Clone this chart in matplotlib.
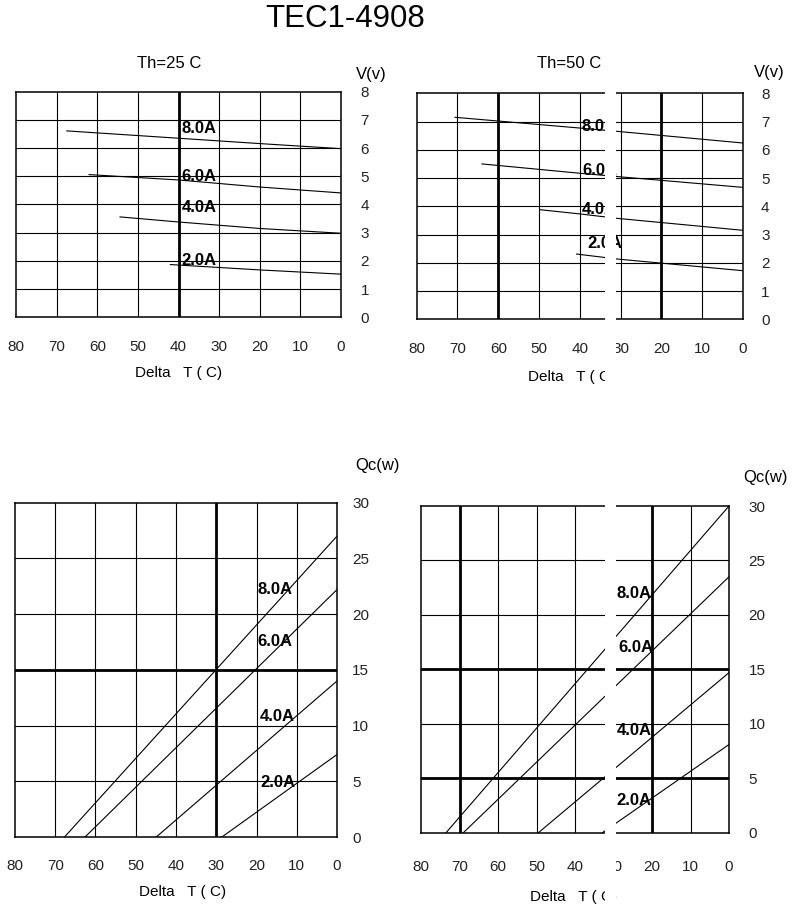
import matplotlib
matplotlib.use('Agg')
import matplotlib.pyplot as plt
from matplotlib.patches import Rectangle

plt.rcParams['font.family'] = ['Liberation Sans', 'DejaVu Sans']

# Delta T axis (reversed: 80 on the left, 0 on the right)
dt_ticks = [80, 70, 60, 50, 40, 30, 20, 10, 0]
v_ticks = [0, 1, 2, 3, 4, 5, 6, 7, 8]
qc_ticks = [0, 5, 10, 15, 20, 25, 30]
current_labels = ['8.0A', '6.0A', '4.0A', '2.0A']

# Voltage vs Delta T, Th = 25 C
v25_dt = [[67.5, 40, 20, 0], [62, 40, 20, 0], [54.4, 40, 20, 0], [42, 20, 0]]
v25_v = [[6.61, 6.35, 6.16, 5.98], [5.06, 4.87, 4.62, 4.41],
         [3.56, 3.38, 3.15, 2.98], [1.87, 1.68, 1.53]]

# Voltage vs Delta T, Th = 50 C
v50_dt = [[70.6, 40, 30.6, 0], [64, 40, 30.6, 0], [49.8, 40, 30.6, 0], [40.8, 30.6, 0]]
v50_v = [[7.15, 6.77, 6.65, 6.24], [5.5, 5.17, 5.05, 4.67],
         [3.88, 3.73, 3.57, 3.15], [2.31, 2.13, 1.72]]

# Cooling capacity vs Delta T, Th = 25 C
qc25_dt = [[67.7, 0], [62.6, 0], [44.9, 0], [28.6, 0]]
qc25_q = [[0, 27.0], [0, 22.2], [0, 14.0], [0, 7.4]]

# Cooling capacity vs Delta T, Th = 50 C
qc50_dt = [[73.5, 0], [69, 0], [49.5, 0], [32.9, 0]]
qc50_q = [[0, 30.0], [0, 23.5], [0, 14.7], [0, 8.1]]

W, H = 796, 922
fig = plt.figure(figsize=(W / 100, H / 100), dpi=100)


def box(x0, y0, x1, y1):
    return [x0 / W, 1 - y1 / H, (x1 - x0) / W, (y1 - y0) / H]


def px(x, y):
    return x / W, 1 - y / H


def setup(ax, yticks, thick_x, thick_y, ypad, xpad):
    ax.set_xlim(80, 0)
    ax.set_ylim(yticks[0], yticks[-1])
    ax.set_xticks(dt_ticks)
    ax.set_yticks(yticks)
    ax.yaxis.tick_right()
    ax.tick_params(axis='both', length=0, labelsize=11, labelcolor='#222222')
    ax.tick_params(axis='y', pad=ypad)
    ax.tick_params(axis='x', pad=xpad)
    for v in dt_ticks[1:-1]:
        ax.axvline(v, color='k', lw=2.0 if v in thick_x else 0.8, zorder=1)
    for v in yticks[1:-1]:
        ax.axhline(v, color='k', lw=2.0 if v in thick_y else 0.8, zorder=1)
    for s in ax.spines.values():
        s.set_linewidth(1.1)


def curves(ax, xs, ys, label_pos):
    for x, y in zip(xs, ys):
        ax.plot(x, y, color='k', lw=0.8, zorder=2)
    for lab, (lx, ly) in zip(current_labels, label_pos):
        ax.text(lx, ly, lab, fontsize=12, fontweight='bold',
                ha='left', va='center', zorder=3)


# top left: V, Th=25
ax1 = fig.add_axes(box(16, 91.7, 341, 317.3))
setup(ax1, v_ticks, [40], [], 14, 16)
curves(ax1, v25_dt, v25_v, [(39.3, 6.68), (39.3, 5.01), (39.3, 3.91), (39.3, 2.03)])

# top right: V, Th=50
ax2 = fig.add_axes(box(416.7, 93.3, 743, 319.3))
setup(ax2, v_ticks, [60, 20], [], 13, 16)
curves(ax2, v50_dt, v50_v, [(39.5, 6.84), (39.5, 5.28), (39.5, 3.9), (38.2, 2.7)])

# bottom left: Qc, Th=25
ax3 = fig.add_axes(box(15, 502.7, 337, 837))
setup(ax3, qc_ticks, [30], [15], 11, 16)
curves(ax3, qc25_dt, qc25_q, [(19.8, 22.2), (19.8, 17.5), (19.1, 10.8), (19.1, 4.9)])

# bottom right: Qc, Th=50
ax4 = fig.add_axes(box(421, 506, 729, 832.7))
setup(ax4, qc_ticks, [70, 20], [15, 5], 14, 20)
curves(ax4, qc50_dt, qc50_q, [(29.2, 22.0), (28.7, 17.05), (29.2, 9.4), (29.2, 3.0)])

# titles and axis captions
fig.text(*px(345, 19), 'TEC1-4908', fontsize=22.5, ha='center', va='center')
fig.text(*px(169, 64), 'Th=25 C', fontsize=12, ha='center', va='center')
fig.text(*px(569, 63), 'Th=50 C', fontsize=12, ha='center', va='center')
fig.text(*px(371, 74), 'V(v)', fontsize=12, ha='center', va='center')
fig.text(*px(769, 73), 'V(v)', fontsize=12, ha='center', va='center')
fig.text(*px(355, 465), 'Qc(w)', fontsize=12, ha='left', va='center')
fig.text(*px(743, 477), 'Qc(w)', fontsize=12, ha='left', va='center')
fig.text(*px(135, 373), 'Delta   T ( C)', fontsize=11, ha='left', va='center')
fig.text(*px(528, 377), 'Delta   T ( C)', fontsize=11, ha='left', va='center')
fig.text(*px(139, 892), 'Delta   T ( C)', fontsize=11, ha='left', va='center')
fig.text(*px(530, 897), 'Delta   T ( C)', fontsize=11, ha='left', va='center')

# blank strip through the right-hand panels
for y0, y1 in [(85, 392), (498, 910)]:
    fig.add_artist(Rectangle(px(605, y1), 11 / W, (y1 - y0) / H,
                             transform=fig.transFigure, facecolor='white',
                             edgecolor='none', zorder=10))

fig.savefig('out.png', dpi=100, facecolor='white')
